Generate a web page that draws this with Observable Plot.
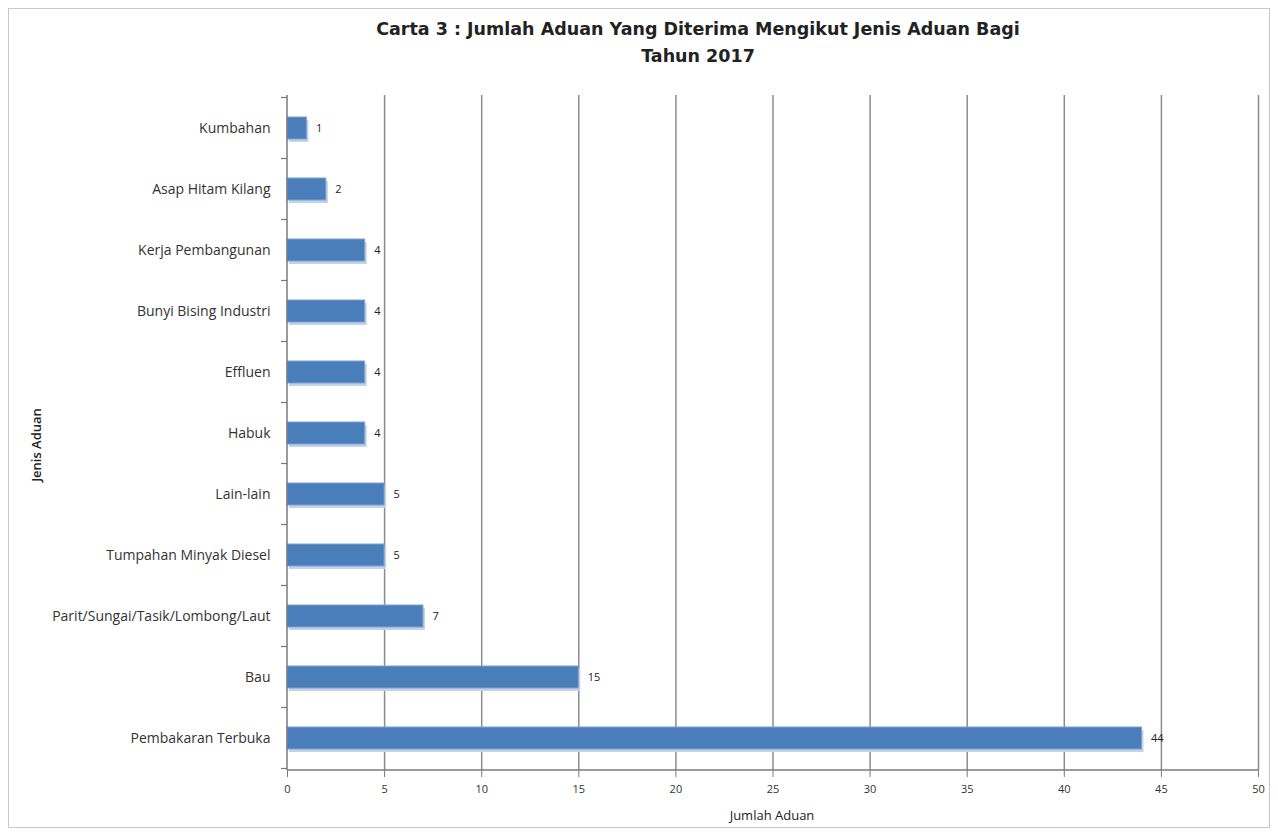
<!DOCTYPE html>
<html>
<head>
<meta charset="utf-8">
<script src="https://cdn.jsdelivr.net/npm/d3@7"></script>
<script src="https://cdn.jsdelivr.net/npm/@observablehq/plot@0.6"></script>
<style>
  html, body { margin: 0; padding: 0; background: #fff; }
  #frame { position: absolute; left: 8px; top: 8px; width: 1262px; height: 820px; border: 1px solid #c8c8c8; box-sizing: border-box; }
  #title { position: absolute; left: 0; top: 16px; width: 1396px; text-align: center; font-family: "DejaVu Sans", sans-serif; font-weight: bold; font-size: 17.5px; line-height: 27px; color: #222; }
  #chart { position: absolute; left: 0; top: 75px; }
  #ytitle { position: absolute; left: 36px; top: 445px; transform: translate(-50%, -50%) rotate(-90deg); font-family: "Open Sans", sans-serif; font-weight: 600; font-size: 13px; color: #222; white-space: nowrap; }
  #xtitle { position: absolute; left: 772px; top: 815px; transform: translate(-50%, -50%); font-family: "Open Sans", sans-serif; font-size: 13px; color: #222; white-space: nowrap; }
</style>
</head>
<body>
<div id="frame"></div>
<div id="title">Carta 3 : Jumlah Aduan Yang Diterima Mengikut Jenis Aduan Bagi<br>Tahun 2017</div>
<div id="ytitle">Jenis Aduan</div>
<div id="chart"></div>
<div id="xtitle"></div>
<script>
const categories = ["Kumbahan", "Asap Hitam Kilang", "Kerja Pembangunan", "Bunyi Bising Industri", "Effluen", "Habuk", "Lain-lain", "Tumpahan Minyak Diesel", "Parit/Sungai/Tasik/Lombong/Laut", "Bau", "Pembakaran Terbuka"];
const values = [1, 2, 4, 4, 4, 4, 5, 5, 7, 15, 44];
const xTicks = [0, 5, 10, 15, 20, 25, 30, 35, 40, 45, 50];
const xTitle = "Jumlah Aduan";

document.getElementById("xtitle").textContent = xTitle;

const data = categories.map((c, i) => ({cat: c, v: values[i]}));

const axisLines = (index, scales, values, dims) => {
  const g = d3.create("svg:g");
  const top = dims.marginTop, bottom = dims.height - dims.marginBottom;
  const left = dims.marginLeft, right = dims.width - dims.marginRight;
  const bw = scales.y.bandwidth ? scales.y.bandwidth() : 0;
  const centers = categories.map(c => scales.y(c) + bw / 2);
  const step = centers[1] - centers[0];
  g.append("line").attr("x1", left).attr("x2", left).attr("y1", top).attr("y2", bottom).attr("stroke", "#7a7a7a").attr("stroke-width", 1.5);
  g.append("line").attr("x1", left).attr("x2", right).attr("y1", bottom).attr("y2", bottom).attr("stroke", "#7a7a7a").attr("stroke-width", 1.5);
  for (let i = 0; i <= categories.length; i++) {
    const y = (i < categories.length ? centers[i] : centers[i - 1] + step) - step / 2;
    g.append("line").attr("x1", left - 6).attr("x2", left).attr("y1", y).attr("y2", y).attr("stroke", "#7a7a7a").attr("stroke-width", 1.2);
  }
  return g.node();
};

const chart = Plot.plot({
  width: 1278,
  height: 755,
  marginLeft: 287,
  marginRight: 20,
  marginTop: 20,
  marginBottom: 60,
  style: {fontFamily: "'Open Sans', sans-serif", fontSize: "11px", color: "#333", background: "transparent"},
  x: {domain: [0, 50]},
  y: {domain: categories, paddingInner: 0.64, paddingOuter: 0.32},
  marks: [
    Plot.ruleX(xTicks.filter(t => t > 0), {stroke: "#8c8c8c", strokeWidth: 1.5}),
    Plot.barX(data, {y: "cat", x: "v", fill: "#c3d2e8", dx: 2, dy: 3}),
    Plot.barX(data, {y: "cat", x: "v", fill: "#4a7ebb", stroke: "#7ea2d1", strokeWidth: 1}),
    Plot.text(data, {y: "cat", x: "v", text: d => String(d.v), dx: 9, textAnchor: "start", fill: "#222", fontSize: 11}),
    Plot.axisX({ticks: xTicks, tickSize: 7, tickPadding: 8, stroke: "#7a7a7a", label: null, fontSize: 11}),
    Plot.axisY({tickSize: 0, tickPadding: 17, label: null, fontSize: 14}),
    axisLines
  ]
});
document.getElementById("chart").appendChild(chart);
</script>
</body>
</html>
